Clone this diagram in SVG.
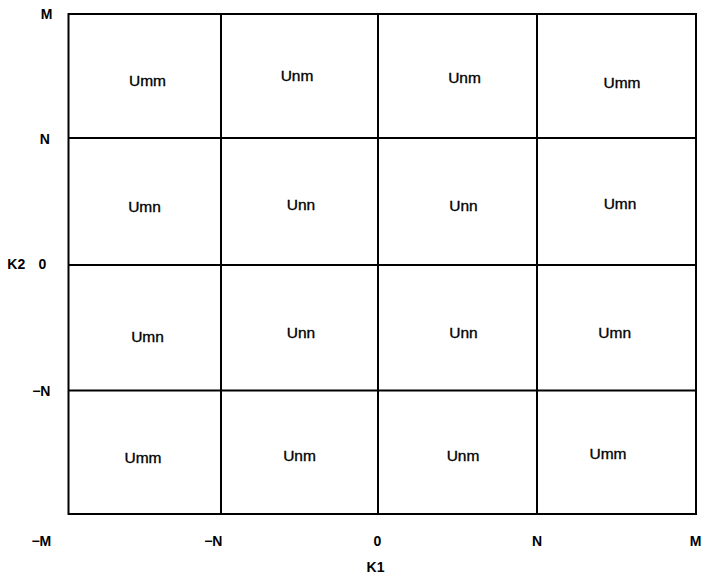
<svg xmlns="http://www.w3.org/2000/svg" width="702" height="578" viewBox="0 0 702 578">
<style>
.ln{stroke:#000;stroke-width:2;fill:none}
.cell{font-family:"Liberation Sans",Arial,sans-serif;font-size:15.5px;fill:#000;stroke:#000;stroke-width:0.35;text-anchor:middle}
.ax{font-family:"Liberation Sans",Arial,sans-serif;font-size:14px;font-weight:bold;fill:#000;text-anchor:middle}
</style>
<rect width="702" height="578" fill="#fff"/>
<g id="grid">
<rect class="ln" x="68.5" y="14" width="627.5" height="500"/>
<line class="ln" x1="221" y1="14" x2="221" y2="514"/>
<line class="ln" x1="378" y1="14" x2="378" y2="514"/>
<line class="ln" x1="537" y1="14" x2="537" y2="514"/>
<line class="ln" x1="68.5" y1="138" x2="696" y2="138"/>
<line class="ln" x1="68.5" y1="265" x2="696" y2="265"/>
<line class="ln" x1="68.5" y1="390.5" x2="696" y2="390.5"/>
</g>
<g id="cells">
<text class="cell" x="147.5" y="86">Umm</text>
<text class="cell" x="297" y="80.5">Unm</text>
<text class="cell" x="464.5" y="82.7">Unm</text>
<text class="cell" x="622" y="88">Umm</text>
<text class="cell" x="144.5" y="212">Umn</text>
<text class="cell" x="301" y="210">Unn</text>
<text class="cell" x="463.5" y="210.7">Unn</text>
<text class="cell" x="620" y="209.3">Umn</text>
<text class="cell" x="147.5" y="341.7">Umn</text>
<text class="cell" x="301" y="338.3">Unn</text>
<text class="cell" x="463.5" y="337.7">Unn</text>
<text class="cell" x="614.7" y="338.3">Umn</text>
<text class="cell" x="143" y="463.3">Umm</text>
<text class="cell" x="299.5" y="461">Unm</text>
<text class="cell" x="463" y="461">Unm</text>
<text class="cell" x="608" y="458.7">Umm</text>
</g>
<g id="axis-k2">
<text class="ax" x="46.7" y="19">M</text>
<text class="ax" x="44.7" y="144">N</text>
<text class="ax" x="16.3" y="269.3">K2</text>
<text class="ax" x="42.5" y="269.3">0</text>
<text class="ax" x="41.3" y="395.7">−N</text>
</g>
<g id="axis-k1">
<text class="ax" x="41.3" y="546">−M</text>
<text class="ax" x="213.3" y="546">−N</text>
<text class="ax" x="377.3" y="546">0</text>
<text class="ax" x="537" y="546">N</text>
<text class="ax" x="695.5" y="546">M</text>
<text class="ax" x="375.5" y="572">K1</text>
</g>
</svg>
